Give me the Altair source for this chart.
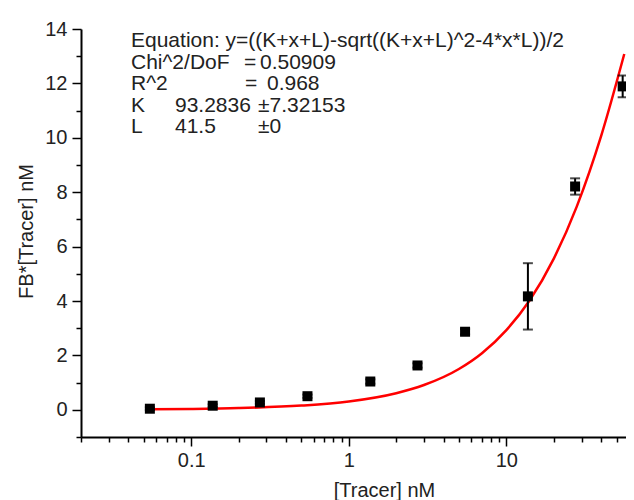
import altair as alt
import pandas as pd

# measured data
tracer = [0.0547, 0.137, 0.273, 0.547, 1.37, 2.73, 5.47, 13.7, 27.3, 54.7]
fb = [0.04, 0.15, 0.27, 0.50, 1.04, 1.63, 2.87, 4.17, 8.21, 11.89]
err = [0.05, 0.05, 0.05, 0.06, 0.08, 0.08, 0.10, 1.22, 0.30, 0.40]

# fit curve values
fit_x = [0.055, 0.1, 0.2, 0.5, 1, 2, 3, 5, 7, 10, 14, 20, 28, 40, 56]
fit_y = [0.017, 0.031, 0.062, 0.155, 0.306, 0.61, 0.91, 1.50, 2.08, 2.93, 4.01, 5.56, 7.48, 10.08, 13.08]

x_major = [0.1, 1, 10]
x_minor = [0.02, 0.03, 0.04, 0.05, 0.06, 0.07, 0.08, 0.09,
           0.2, 0.3, 0.4, 0.5, 0.6, 0.7, 0.8, 0.9,
           2, 3, 4, 5, 6, 7, 8, 9, 20, 30, 40, 50]
y_major = [0, 2, 4, 6, 8, 10, 12, 14]
y_minor = [-1, 1, 3, 5, 7, 9, 11, 13]

ann_col0 = ["Equation: y=((K+x+L)-sqrt((K+x+L)^2-4*x*L))/2", "Chi^2/DoF", "R^2", "K", "L"]

FONT = "Liberation Sans"
TXT = "#222222"
ANN = 21

pts = pd.DataFrame({"x": tracer, "y": fb, "e": err})
fit = pd.DataFrame({"x": fit_x, "y": fit_y})

# the x axis runs slightly past the visible page edge, as in the reference
xs = alt.Scale(type="log", domain=[0.02, 60], nice=False, range=[0, 548])
ys = alt.Scale(domain=[-1, 14], nice=False, zero=False)

x_major_axis = alt.Axis(values=x_major, format="~g", orient="bottom", tickSize=9, tickWidth=1.5,
                        tickColor="black", domainColor="black", domainWidth=2,
                        labelFontSize=20, labelFont=FONT, labelColor=TXT, labelPadding=4,
                        grid=False, title="[Tracer] nM", titleFont=FONT, titleFontSize=20,
                        titleFontWeight="normal", titleColor=TXT, titleX=303, titleY=59,
                        titleBaseline="alphabetic", titleAlign="center")
y_major_axis = alt.Axis(values=y_major, orient="left", tickSize=9, tickWidth=1.5,
                        tickColor="black", domainColor="black", domainWidth=2,
                        labelFontSize=20, labelFont=FONT, labelColor=TXT, labelPadding=5,
                        grid=False, title="FB*[Tracer] nM", titleFont=FONT, titleFontSize=20,
                        titleFontWeight="normal", titleColor=TXT, titleX=-49, titleY=202,
                        titleAngle=-90, titleBaseline="alphabetic", titleAlign="center")
x_minor_axis = alt.Axis(values=x_minor, orient="bottom", tickSize=5, tickWidth=1.5,
                        tickColor="black", domain=False, labels=False, grid=False, title=None)
y_minor_axis = alt.Axis(values=y_minor, orient="left", tickSize=5, tickWidth=1.5,
                        tickColor="black", domain=False, labels=False, grid=False, title=None)

curve = alt.Chart(fit).mark_line(color="#ff0000", strokeWidth=2.5, interpolate="monotone").encode(
    x=alt.X("x:Q", scale=xs, axis=x_minor_axis),
    y=alt.Y("y:Q", scale=ys, axis=y_minor_axis),
)

base = alt.Chart(pts).transform_calculate(lo="datum.y - datum.e", hi="datum.y + datum.e")

bars = base.mark_rule(color="black", strokeWidth=2).encode(
    x=alt.X("x:Q", scale=xs, axis=None),
    y=alt.Y("lo:Q", scale=ys, axis=None),
    y2="hi:Q",
)
cap_lo = base.mark_tick(color="black", orient="horizontal", size=10, thickness=2).encode(
    x=alt.X("x:Q", scale=xs, axis=None),
    y=alt.Y("lo:Q", scale=ys, axis=None),
)
cap_hi = base.mark_tick(color="black", orient="horizontal", size=10, thickness=2).encode(
    x=alt.X("x:Q", scale=xs, axis=None),
    y=alt.Y("hi:Q", scale=ys, axis=None),
)
points = alt.Chart(pts).mark_square(color="black", size=100, opacity=1).encode(
    x=alt.X("x:Q", scale=xs, axis=x_major_axis),
    y=alt.Y("y:Q", scale=ys, axis=y_major_axis),
)

one = pd.DataFrame({"a": [0]})


def label(text, x, y):
    return alt.Chart(one).mark_text(text=text, font=FONT, fontSize=ANN, color=TXT,
                                    align="left", baseline="alphabetic").encode(
        x=alt.value(x), y=alt.value(y))


baselines = [18, 39.5, 61, 82.5, 104]
texts = [label(t, 50, b) for t, b in zip(ann_col0, baselines)]
texts += [
    label("=", 163, baselines[1]), label("0.50909", 179, baselines[1]),
    label("=", 164, baselines[2]), label("0.968", 186, baselines[2]),
    label("93.2836", 94, baselines[3]), label("\u00b17.32153", 177, baselines[3]),
    label("41.5", 94, baselines[4]), label("\u00b10", 177, baselines[4]),
]

chart = alt.layer(curve, bars, cap_lo, cap_hi, points, *texts).resolve_axis(
    x="independent", y="independent"
).properties(
    width=545, height=408,
    autosize=alt.AutoSizeParams(type="none"),
    padding={"left": 73, "top": 21, "right": 0, "bottom": 70},
).configure_view(stroke=None)

chart.save("out.html", embed_options={"renderer": "svg", "actions": False})
